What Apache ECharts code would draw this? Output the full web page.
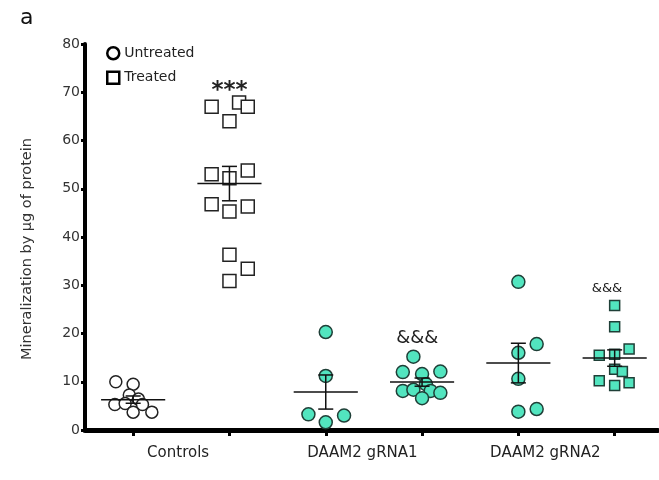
<!DOCTYPE html>
<html>
<head>
<meta charset="utf-8">
<script src="https://cdn.jsdelivr.net/npm/echarts@6/dist/echarts.min.js"></script>
<style>
  html, body { margin: 0; padding: 0; background: #fff; }
  #chart { width: 659px; height: 480px; }
</style>
</head>
<body>
<div id="chart"></div>
<script>
// Mineralization per µg of protein, one dot per well.
// Each group sits at an integer x position; jitter spreads overlapping dots.
const groupNames = ['Controls', 'DAAM2 gRNA1', 'DAAM2 gRNA2'];
const groupLabelAt = [0.467, 2.38, 4.28];

const ctrlUntreated       = [10.0, 9.5, 7.25, 6.4, 5.3, 5.5, 5.3, 3.7, 3.7];
const ctrlUntreatedJitter = [-0.18, 0, -0.04, 0.055, -0.19, -0.083, 0.097, 0, 0.194];

const ctrlTreated       = [67.0, 67.9, 67.0, 64.0, 53.0, 53.8, 52.2, 46.8, 45.3, 46.3, 36.3, 33.4, 30.9];
const ctrlTreatedJitter = [-0.185, 0.1, 0.19, 0, -0.185, 0.19, 0, -0.185, 0, 0.19, 0, 0.19, 0];

const g1Untreated       = [20.3, 11.2, 3.25, 1.6, 3.0];
const g1UntreatedJitter = [0, 0, -0.18, 0, 0.19];

const g1Treated       = [15.2, 12.0, 11.6, 12.1, 9.5, 8.1, 8.35, 8.1, 7.7, 6.6];
const g1TreatedJitter = [-0.09, -0.2, 0, 0.19, 0.04, -0.2, -0.09, 0.09, 0.19, 0];

const g2Untreated       = [30.7, 17.8, 16.0, 10.6, 3.8, 4.35];
const g2UntreatedJitter = [0, 0.19, 0, 0, 0, 0.19];

const g2Treated       = [25.8, 21.4, 15.5, 15.7, 16.8, 12.6, 12.1, 10.2, 9.2, 9.8];
const g2TreatedJitter = [0, 0, -0.16, 0, 0.15, 0, 0.08, -0.16, 0, 0.15];

// significance marks: x position, y value, text
const markX    = [1, 2.95, 4.92];
const markY    = [70.3, 19.0, 29.2];
const markText = ['***', '&&&', '&&&'];

const yTicks = [0, 10, 20, 30, 40, 50, 60, 70, 80];

// ---------------------------------------------------------------
const TEAL = '#52e5bf';
const TEAL_EDGE = '#1f3f37';

function points(pos, values, jitter) {
  return values.map((v, i) => [pos + jitter[i], v]);
}
function meanSem(values) {
  const n = values.length;
  const m = values.reduce((a, b) => a + b, 0) / n;
  const sd = Math.sqrt(values.reduce((a, b) => a + (b - m) * (b - m), 0) / (n - 1));
  return [m, sd / Math.sqrt(n)];
}

const groups = [
  { name: 'Untreated', values: ctrlUntreated, jitter: ctrlUntreatedJitter, symbol: 'circle', size: 12, fill: '#fff', edge: '#222' },
  { name: 'Treated', values: ctrlTreated, jitter: ctrlTreatedJitter, symbol: 'rect', size: 13, fill: '#fff', edge: '#222' },
  { name: 'DAAM2 gRNA1 untreated', values: g1Untreated, jitter: g1UntreatedJitter, symbol: 'circle', size: 13, fill: TEAL, edge: TEAL_EDGE },
  { name: 'DAAM2 gRNA1 treated', values: g1Treated, jitter: g1TreatedJitter, symbol: 'circle', size: 13, fill: TEAL, edge: TEAL_EDGE },
  { name: 'DAAM2 gRNA2 untreated', values: g2Untreated, jitter: g2UntreatedJitter, symbol: 'circle', size: 13, fill: TEAL, edge: TEAL_EDGE },
  { name: 'DAAM2 gRNA2 treated', values: g2Treated, jitter: g2TreatedJitter, symbol: 'rect', size: 10, fill: TEAL, edge: TEAL_EDGE }
];

const scatterSeries = groups.map((g, i) => ({
  type: 'scatter',
  name: g.name,
  symbol: g.symbol,
  symbolSize: g.size,
  data: points(i, g.values, g.jitter),
  itemStyle: { color: g.fill, borderColor: g.edge, borderWidth: 1.5, opacity: 1 },
  emphasis: { disabled: true },
  z: 2
}));

// mean line with SEM whiskers for every group
const summary = groups.map((g, i) => [i].concat(meanSem(g.values)));

const summarySeries = {
  type: 'custom',
  name: 'mean ± SEM',
  data: summary,
  z: 3,
  silent: true,
  renderItem(params, api) {
    const x = api.value(0), m = api.value(1), s = api.value(2);
    const L = api.coord([x - 0.333, m]), R = api.coord([x + 0.333, m]);
    const T = api.coord([x, m + s]), B = api.coord([x, m - s]);
    const half = api.size([0.078, 0])[0];
    const st = { stroke: '#111', lineWidth: 1.5, fill: null };
    return {
      type: 'group',
      children: [
        { type: 'line', shape: { x1: L[0], y1: L[1], x2: R[0], y2: R[1] }, style: st },
        { type: 'line', shape: { x1: T[0], y1: T[1], x2: B[0], y2: B[1] }, style: st },
        { type: 'line', shape: { x1: T[0] - half, y1: T[1], x2: T[0] + half, y2: T[1] }, style: st },
        { type: 'line', shape: { x1: B[0] - half, y1: B[1], x2: B[0] + half, y2: B[1] }, style: st }
      ]
    };
  }
};

const markFonts = ['bold 23px "DejaVu Sans"', '18px "DejaVu Sans"', '13px "DejaVu Sans"'];
const markSeries = {
  type: 'custom',
  name: 'significance',
  data: markX.map((x, i) => [x, markY[i], i]),
  z: 4,
  silent: true,
  renderItem(params, api) {
    const p = api.coord([api.value(0), api.value(1)]);
    const i = api.value(2);
    return {
      type: 'text',
      x: p[0], y: p[1],
      style: { text: markText[i], font: markFonts[i], fill: '#222', align: 'center', verticalAlign: 'middle' }
    };
  }
};

const chart = echarts.init(document.getElementById('chart'), null, { renderer: 'canvas' });
chart.setOption({
  animation: false,
  backgroundColor: '#fff',
  title: {
    text: 'a', left: 15, top: 2,
    textStyle: { fontFamily: 'DejaVu Sans', fontSize: 22, fontWeight: 'normal', color: '#111' }
  },
  legend: {
    orient: 'vertical', left: 101, top: 41,
    itemWidth: 12, itemHeight: 12, itemGap: 10,
    selectedMode: false,
    textStyle: { fontFamily: 'DejaVu Sans', fontSize: 14, color: '#222' },
    data: [
      { name: 'Untreated', icon: 'circle', itemStyle: { color: '#fff', borderColor: '#000', borderWidth: 2.5 } },
      { name: 'Treated', icon: 'rect', itemStyle: { color: '#fff', borderColor: '#000', borderWidth: 2.5 } }
    ]
  },
  grid: { left: 85, right: 1, top: 44, bottom: 50, containLabel: false },
  xAxis: {
    type: 'value',
    min: -0.5, max: 5.45,
    splitLine: { show: false },
    axisLine: { show: true, onZero: false, lineStyle: { color: '#000', width: 5 } },
    axisTick: { show: true, customValues: [0, 1, 2, 3, 4, 5], length: 6, lineStyle: { color: '#000', width: 3 } },
    axisLabel: {
      customValues: groupLabelAt,
      formatter: v => groupNames[groupLabelAt.indexOf(v)] || '',
      margin: 16,
      fontFamily: 'DejaVu Sans', fontSize: 15, color: '#222'
    }
  },
  yAxis: {
    type: 'value',
    min: 0, max: 80, interval: 10,
    splitLine: { show: false },
    axisLine: { show: true, onZero: false, lineStyle: { color: '#000', width: 4 } },
    axisTick: { show: true, length: 4, lineStyle: { color: '#000', width: 3 } },
    axisLabel: { margin: 5, fontFamily: 'DejaVu Sans', fontSize: 14, color: '#333',
      formatter: v => yTicks.indexOf(v) >= 0 ? String(v) : '' },
    name: 'Mineralization by µg of protein',
    nameLocation: 'middle',
    nameRotate: 90,
    nameGap: 50,
    nameTextStyle: { fontFamily: 'DejaVu Sans', fontSize: 14.5, color: '#333', padding: [0, 24, 0, 0] }
  },
  series: scatterSeries.concat([summarySeries, markSeries])
});
</script>
</body>
</html>
